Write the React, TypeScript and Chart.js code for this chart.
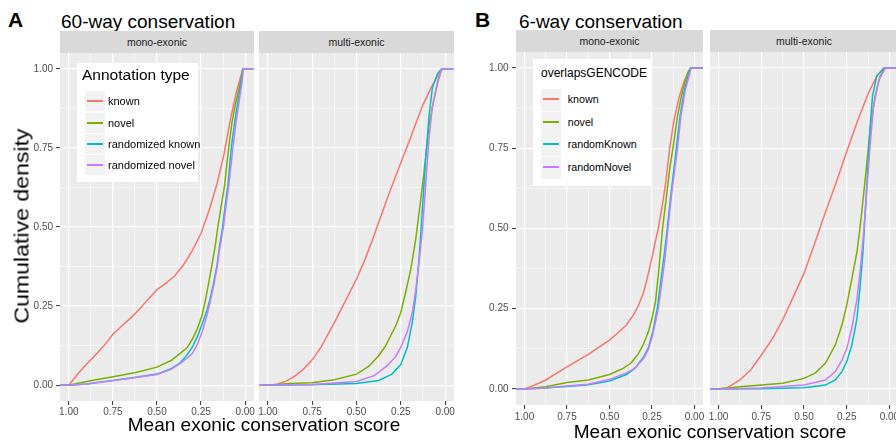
import React, { useEffect, useRef } from 'react';
import { Chart, registerables } from 'chart.js';

Chart.register(...registerables);

// ---------- data ----------
const LABELS_A = ['known', 'novel', 'randomized known', 'randomized novel'];
const LABELS_B = ['known', 'novel', 'randomKnown', 'randomNovel'];
const COLORS = ['#F8766D', '#7CAE00', '#00BFC4', '#C77CFF'];
const AXIS_TICKS = [0, 0.125, 0.25, 0.375, 0.5, 0.625, 0.75, 0.875, 1];
const FACETS = ['mono-exonic', 'multi-exonic'];

type Pt = [number, number];

// A: 60-way conservation, mono-exonic
const A_MONO_KNOWN: Pt[] = [[1.05,0],[1,0],[0.95,0.035],[0.9,0.066],[0.85,0.095],[0.8,0.125],[0.75,0.161],[0.7,0.187],[0.65,0.212],[0.6,0.24],[0.55,0.272],[0.5,0.302],[0.45,0.322],[0.4,0.345],[0.35,0.38],[0.3,0.425],[0.25,0.48],[0.2,0.56],[0.16,0.636],[0.12,0.73],[0.085,0.836],[0.05,0.926],[0.013,1],[-0.05,1]];
const A_MONO_NOVEL: Pt[] = [[1.05,0],[1,0],[0.877,0.014],[0.75,0.027],[0.62,0.04],[0.5,0.057],[0.42,0.078],[0.37,0.1],[0.33,0.118],[0.3,0.145],[0.27,0.18],[0.245,0.22],[0.225,0.27],[0.205,0.33],[0.189,0.378],[0.17,0.44],[0.155,0.5],[0.135,0.57],[0.117,0.631],[0.094,0.749],[0.075,0.83],[0.053,0.894],[0.03,0.95],[0.013,1],[-0.05,1]];
const A_MONO_RKNOWN: Pt[] = [[1.05,0],[1,0],[0.9,0.004],[0.764,0.014],[0.62,0.025],[0.5,0.035],[0.42,0.052],[0.37,0.07],[0.33,0.095],[0.3,0.12],[0.27,0.155],[0.24,0.2],[0.215,0.24],[0.2,0.27],[0.18,0.32],[0.16,0.378],[0.145,0.44],[0.128,0.5],[0.113,0.57],[0.098,0.631],[0.079,0.749],[0.06,0.83],[0.042,0.894],[0.025,0.95],[0.013,1],[-0.05,1]];
const A_MONO_RNOVEL: Pt[] = [[1.05,0],[1,0],[0.9,0.004],[0.764,0.013],[0.62,0.024],[0.5,0.034],[0.42,0.05],[0.37,0.068],[0.33,0.085],[0.3,0.1],[0.27,0.13],[0.24,0.175],[0.215,0.225],[0.2,0.26],[0.18,0.31],[0.16,0.37],[0.145,0.43],[0.123,0.5],[0.108,0.57],[0.093,0.631],[0.07,0.749],[0.052,0.83],[0.035,0.894],[0.02,0.95],[0.01,1],[-0.05,1]];

// A: 60-way conservation, multi-exonic
const A_MULTI_KNOWN: Pt[] = [[1.05,0],[1,0],[0.95,0.003],[0.9,0.012],[0.85,0.028],[0.8,0.05],[0.75,0.08],[0.7,0.12],[0.625,0.198],[0.55,0.28],[0.5,0.335],[0.45,0.4],[0.4,0.475],[0.375,0.514],[0.32,0.6],[0.25,0.703],[0.2,0.775],[0.15,0.85],[0.125,0.887],[0.07,0.95],[0.019,1],[-0.05,1]];
const A_MULTI_NOVEL: Pt[] = [[1.05,0],[1,0],[0.875,0.005],[0.75,0.008],[0.625,0.017],[0.5,0.035],[0.43,0.06],[0.375,0.093],[0.336,0.124],[0.279,0.187],[0.25,0.23],[0.223,0.293],[0.194,0.366],[0.166,0.461],[0.147,0.545],[0.128,0.63],[0.109,0.724],[0.091,0.82],[0.072,0.88],[0.043,0.955],[0.019,1],[-0.05,1]];
const A_MULTI_RKNOWN: Pt[] = [[1.05,0],[1,0],[0.75,0.001],[0.5,0.005],[0.375,0.015],[0.3,0.035],[0.25,0.065],[0.213,0.12],[0.185,0.2],[0.166,0.28],[0.147,0.4],[0.128,0.56],[0.109,0.72],[0.091,0.85],[0.072,0.94],[0.043,0.985],[0.019,1],[-0.05,1]];
const A_MULTI_RNOVEL: Pt[] = [[1.05,0],[1,0],[0.75,0.002],[0.5,0.012],[0.4,0.03],[0.33,0.06],[0.28,0.09],[0.25,0.12],[0.213,0.17],[0.185,0.23],[0.166,0.3],[0.147,0.39],[0.128,0.49],[0.109,0.64],[0.091,0.78],[0.072,0.88],[0.043,0.96],[0.019,1],[-0.05,1]];

// B: 6-way conservation, mono-exonic
const B_MONO_KNOWN: Pt[] = [[1.05,0],[1,0],[0.95,0.01],[0.875,0.028],[0.75,0.069],[0.625,0.108],[0.5,0.152],[0.45,0.175],[0.4,0.2],[0.36,0.23],[0.33,0.26],[0.3,0.3],[0.28,0.34],[0.25,0.41],[0.23,0.46],[0.213,0.5],[0.19,0.57],[0.17,0.64],[0.146,0.75],[0.12,0.84],[0.09,0.91],[0.06,0.96],[0.023,1],[-0.05,1]];
const B_MONO_NOVEL: Pt[] = [[1.05,0],[1,0],[0.875,0.007],[0.75,0.02],[0.625,0.028],[0.5,0.045],[0.42,0.064],[0.375,0.08],[0.33,0.11],[0.3,0.14],[0.27,0.18],[0.25,0.22],[0.23,0.27],[0.21,0.37],[0.188,0.5],[0.165,0.6],[0.145,0.69],[0.127,0.75],[0.1,0.85],[0.07,0.93],[0.04,0.985],[0.023,1],[-0.05,1]];
const B_MONO_RKNOWN: Pt[] = [[1.05,0],[1,0],[0.875,0.003],[0.75,0.008],[0.625,0.013],[0.5,0.025],[0.4,0.045],[0.35,0.065],[0.3,0.1],[0.27,0.13],[0.245,0.18],[0.219,0.25],[0.2,0.33],[0.18,0.41],[0.16,0.5],[0.14,0.6],[0.12,0.69],[0.107,0.75],[0.085,0.85],[0.06,0.93],[0.035,0.98],[0.023,1],[-0.05,1]];
const B_MONO_RNOVEL: Pt[] = [[1.05,0],[1,0],[0.875,0.003],[0.75,0.009],[0.625,0.015],[0.5,0.03],[0.4,0.05],[0.35,0.065],[0.3,0.095],[0.27,0.125],[0.245,0.17],[0.213,0.25],[0.195,0.32],[0.175,0.4],[0.156,0.5],[0.136,0.6],[0.115,0.69],[0.1,0.75],[0.08,0.85],[0.055,0.93],[0.03,0.98],[0.02,1],[-0.05,1]];

// B: 6-way conservation, multi-exonic
const B_MULTI_KNOWN: Pt[] = [[1.05,0],[1,0],[0.95,0.004],[0.938,0.007],[0.875,0.028],[0.812,0.059],[0.75,0.105],[0.686,0.155],[0.625,0.215],[0.56,0.29],[0.5,0.36],[0.433,0.46],[0.375,0.55],[0.307,0.65],[0.25,0.74],[0.19,0.83],[0.125,0.92],[0.074,0.975],[0.035,1],[-0.05,1]];
const B_MULTI_NOVEL: Pt[] = [[1.05,0],[1,0],[0.875,0.007],[0.75,0.012],[0.625,0.018],[0.5,0.033],[0.433,0.05],[0.375,0.08],[0.317,0.137],[0.278,0.199],[0.25,0.261],[0.22,0.344],[0.19,0.427],[0.171,0.509],[0.152,0.602],[0.132,0.706],[0.113,0.81],[0.084,0.913],[0.054,0.975],[0.025,1],[-0.05,1]];
const B_MULTI_RKNOWN: Pt[] = [[1.05,0],[1,0],[0.75,0.001],[0.5,0.004],[0.375,0.012],[0.317,0.028],[0.278,0.054],[0.25,0.085],[0.22,0.137],[0.19,0.219],[0.171,0.323],[0.155,0.427],[0.142,0.551],[0.126,0.696],[0.113,0.82],[0.099,0.913],[0.074,0.975],[0.03,1],[-0.05,1]];
const B_MULTI_RNOVEL: Pt[] = [[1.05,0],[1,0],[0.75,0.003],[0.5,0.012],[0.375,0.028],[0.317,0.054],[0.278,0.09],[0.25,0.125],[0.22,0.19],[0.19,0.28],[0.171,0.37],[0.152,0.48],[0.132,0.62],[0.113,0.76],[0.093,0.88],[0.064,0.96],[0.025,1],[-0.05,1]];

// ---------- style ----------
const FONT = "'Liberation Sans', Arial, Helvetica, sans-serif";
const PAD_T = 10;
const PAD_R = 12;
const X_H = 30;

const isMajor = (v: number) => Math.abs(v * 4 - Math.round(v * 4)) < 1e-6;

const bgPlugin = {
  id: 'panelBg',
  beforeDraw(chart: any) {
    const { ctx, chartArea } = chart;
    if (!chartArea) return;
    ctx.save();
    ctx.fillStyle = '#EBEBEB';
    ctx.fillRect(chartArea.left, chartArea.top, chartArea.right - chartArea.left, chartArea.bottom - chartArea.top);
    ctx.restore();
  },
};

type PanelProps = {
  series: Pt[][];
  labels: string[];
  left: number;
  top: number;
  width: number;
  height: number;
  showY: boolean;
  xPad: number;
  yPad: number;
};

function ChartPanel({ series, labels, left, top, width, height, showY, xPad, yPad }: PanelProps) {
  const ref = useRef<HTMLCanvasElement>(null);
  const yW = showY ? 40 : 12;
  const cw = yW + width + PAD_R;
  const ch = PAD_T + height + X_H;

  useEffect(() => {
    const canvas = ref.current;
    if (!canvas) return;
    const gridColor = () => '#FFFFFF';
    const gridWidth = (ctx: any) => (ctx.tick && isMajor(ctx.tick.value) ? 1.2 : 0.55);
    const tickColor = (ctx: any) => (ctx.tick && isMajor(ctx.tick.value) ? '#333333' : 'rgba(0,0,0,0)');
    const setTicks = (ax: any) => {
      ax.ticks = AXIS_TICKS.map((value) => ({ value }));
    };
    const chart = new Chart(canvas, {
      type: 'scatter',
      data: {
        datasets: series.map((pts, i) => ({
          label: labels[i],
          data: pts.map(([x, y]) => ({ x, y })),
          showLine: true,
          borderColor: COLORS[i],
          backgroundColor: COLORS[i],
          borderWidth: 1.5,
          pointRadius: 0,
          pointHoverRadius: 0,
          tension: 0,
          order: series.length - i,
        })),
      },
      options: {
        animation: false,
        responsive: false,
        devicePixelRatio: 1,
        layout: { padding: { top: PAD_T, right: PAD_R, left: 0, bottom: 0 } },
        plugins: { legend: { display: false }, tooltip: { enabled: false } },
        events: [],
        scales: {
          x: {
            type: 'linear',
            min: -0.05,
            max: 1.05,
            reverse: true,
            afterBuildTicks: setTicks,
            afterFit: (ax: any) => {
              ax.height = X_H;
            },
            border: { display: false },
            grid: {
              color: gridColor,
              lineWidth: gridWidth,
              drawTicks: true,
              tickLength: 4,
              tickColor,
              tickWidth: 1,
            },
            ticks: {
              autoSkip: false,
              maxRotation: 0,
              minRotation: 0,
              padding: xPad,
              color: '#4D4D4D',
              font: { family: FONT, size: 10 },
              callback: (v: any) => (isMajor(Number(v)) ? Number(v).toFixed(2) : ''),
            },
          },
          y: {
            type: 'linear',
            min: -0.05,
            max: 1.05,
            afterBuildTicks: setTicks,
            afterFit: (ax: any) => {
              ax.width = yW;
            },
            border: { display: false },
            grid: {
              color: gridColor,
              lineWidth: gridWidth,
              drawTicks: showY,
              tickLength: 4,
              tickColor,
              tickWidth: 1,
            },
            ticks: {
              display: showY,
              autoSkip: false,
              padding: yPad,
              color: '#4D4D4D',
              font: { family: FONT, size: 10 },
              callback: (v: any) => (isMajor(Number(v)) ? Number(v).toFixed(2) : ''),
            },
          },
        },
      } as any,
      plugins: [bgPlugin],
    });
    return () => chart.destroy();
  }, []);

  return (
    <canvas
      ref={ref}
      width={cw}
      height={ch}
      style={{ position: 'absolute', left: left - yW, top: top - PAD_T, width: cw, height: ch }}
    />
  );
}

function Strip({ text, left, top, width, height, size }: any) {
  return (
    <div
      style={{
        position: 'absolute',
        left,
        top,
        width,
        height,
        background: '#D9D9D9',
        display: 'flex',
        alignItems: 'center',
        justifyContent: 'center',
        fontFamily: FONT,
        fontSize: size,
        color: '#1A1A1A',
        whiteSpace: 'nowrap',
      }}
    >
      {text}
    </div>
  );
}

function Txt({ text, left, top, size, bold, color, center }: any) {
  return (
    <div
      style={{
        position: 'absolute',
        left,
        top,
        fontFamily: FONT,
        fontSize: size,
        fontWeight: bold ? 'bold' : 'normal',
        color: color || '#000',
        lineHeight: 1,
        whiteSpace: 'nowrap',
        transform: center ? 'translateX(-50%)' : undefined,
      }}
    >
      {text}
    </div>
  );
}

function Legend({ title, labels, box, titleLeft, titleTop, titleSize, keyLeft, keyW, rowTop, rowH, labelLeft, labelSize }: any) {
  return (
    <>
      <div style={{ position: 'absolute', left: box[0], top: box[1], width: box[2], height: box[3], background: '#FFFFFF' }} />
      <Txt text={title} left={titleLeft} top={titleTop} size={titleSize} />
      {labels.map((lab: string, i: number) => {
        const t = Math.round(rowTop + i * rowH);
        const lineTop = Math.round(t + rowH / 2 - 1);
        return (
          <React.Fragment key={lab}>
            <div
              style={{
                position: 'absolute',
                left: keyLeft,
                top: t + 1,
                width: keyW,
                height: Math.round(rowH) - 1,
                background: '#F2F2F2',
              }}
            />
            <div
              style={{
                position: 'absolute',
                left: keyLeft + 2,
                top: lineTop,
                width: keyW - 4,
                height: 2,
                background: COLORS[i],
              }}
            />
            <div
              style={{
                position: 'absolute',
                left: labelLeft,
                top: t,
                height: rowH,
                display: 'flex',
                alignItems: 'center',
                fontFamily: FONT,
                fontSize: labelSize,
                color: '#000',
                whiteSpace: 'nowrap',
              }}
            >
              {lab}
            </div>
          </React.Fragment>
        );
      })}
    </>
  );
}

export default function App() {
  const A_MONO = [A_MONO_KNOWN, A_MONO_NOVEL, A_MONO_RKNOWN, A_MONO_RNOVEL];
  const A_MULTI = [A_MULTI_KNOWN, A_MULTI_NOVEL, A_MULTI_RKNOWN, A_MULTI_RNOVEL];
  const B_MONO = [B_MONO_KNOWN, B_MONO_NOVEL, B_MONO_RKNOWN, B_MONO_RNOVEL];
  const B_MULTI = [B_MULTI_KNOWN, B_MULTI_NOVEL, B_MULTI_RKNOWN, B_MULTI_RNOVEL];

  return (
    <div style={{ position: 'absolute', left: 0, top: 0, width: 896, height: 444, overflow: 'hidden', background: '#FFFFFF' }}>
      {/* Figure A */}
      <Txt text="A" left={8} top={9} size={21} bold />
      <Txt text="60-way conservation" left={61} top={12} size={19} />
      <Strip text={FACETS[0]} left={60} top={31} width={194} height={22} size={10.5} />
      <Strip text={FACETS[1]} left={259} top={31} width={195} height={22} size={10.5} />
      <ChartPanel series={A_MONO} labels={LABELS_A} left={60} top={53} width={194} height={348} showY xPad={1} yPad={3} />
      <ChartPanel series={A_MULTI} labels={LABELS_A} left={259} top={53} width={195} height={348} showY={false} xPad={1} yPad={3} />
      <div
        style={{
          position: 'absolute',
          left: 21,
          top: 226,
          fontFamily: FONT,
          fontSize: 21,
          lineHeight: 1,
          color: '#000',
          whiteSpace: 'nowrap',
          transform: 'translate(-50%, -50%) rotate(-90deg) scaleX(1.1)',
        }}
      >
        Cumulative density
      </div>
      <Txt text="Mean exonic conservation score" left={264} top={414.5} size={19} center />
      <Legend
        title="Annotation type"
        labels={LABELS_A}
        box={[77, 63, 121, 119]}
        titleLeft={82}
        titleTop={67.2}
        titleSize={15.5}
        keyLeft={85}
        keyW={20}
        rowTop={90.3}
        rowH={21.3}
        labelLeft={108}
        labelSize={11}
      />

      {/* Figure B */}
      <Txt text="B" left={475} top={9} size={21} bold />
      <Txt text="6-way conservation" left={519} top={12} size={19} />
      <Strip text={FACETS[0]} left={516} top={30} width={187} height={22} size={10.5} />
      <Strip text={FACETS[1]} left={710} top={30} width={188} height={22} size={10.5} />
      <ChartPanel series={B_MONO} labels={LABELS_B} left={516} top={52} width={187} height={353} showY xPad={2} yPad={3.5} />
      <ChartPanel series={B_MULTI} labels={LABELS_B} left={710} top={52} width={188} height={353} showY={false} xPad={2} yPad={3.5} />
      <Txt text="Mean exonic conservation score" left={710} top={422} size={19} center />
      <Legend
        title="overlapsGENCODE"
        labels={LABELS_B}
        box={[533, 58.5, 118.5, 127]}
        titleLeft={541}
        titleTop={66.8}
        titleSize={12}
        keyLeft={541}
        keyW={19.5}
        rowTop={88}
        rowH={22.5}
        labelLeft={567.7}
        labelSize={10.7}
      />
    </div>
  );
}
